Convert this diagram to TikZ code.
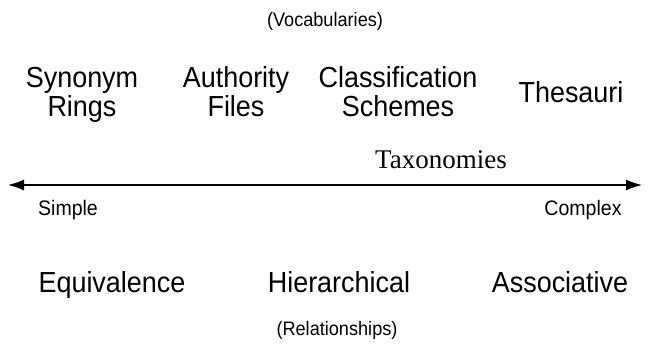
\documentclass[tikz,border=0pt]{standalone}
\usepackage{fontspec}
\setmainfont{Liberation Sans}[FakeStretch=0.93]
\newfontfamily\timesface{Liberation Serif}
\usetikzlibrary{arrows.meta}

\begin{document}
\begin{tikzpicture}[x=1pt,y=-1pt,
    big/.style={font=\fontsize{29}{29}\selectfont,align=center,inner sep=0pt,anchor=base},
    small/.style={font=\fontsize{21}{24}\selectfont,inner sep=0pt,anchor=base},
    tiny/.style={font=\fontsize{19.5}{22}\selectfont,inner sep=0pt,anchor=base}]
    \useasboundingbox (0,0) rectangle (649,349);
    % vocabularies
    \node [tiny] (vocab) at (325,26) {(Vocabularies)};
    \node [big] (synonym) at (82,116) {Synonym\\Rings};
    \node [big] (authority) at (236,116) {Authority\\Files};
    \node [big] (classif) at (398,116) {Classification\\Schemes};
    \node [big] (thesauri) at (571,102) {Thesauri};
    \node [big,font=\timesface\fontsize{27}{29}\selectfont] (taxo) at (441,168) {Taxonomies};
    % scale
    \coordinate (lo) at (8,185);
    \coordinate (hi) at (642,185);
    \draw [line width=1.3pt,{Latex[length=16pt,width=11pt]}-{Latex[length=16pt,width=11pt]}] (lo) -- (hi);
    \node [small] (simple) at (68,215) {Simple};
    \node [small] (complex) at (583,215) {Complex};
    % relationships
    \node [big] (equiv) at (112,292) {Equivalence};
    \node [big] (hier) at (339,292) {Hierarchical};
    \node [big] (assoc) at (560,292) {Associative};
    \node [tiny] (rel) at (337,335) {(Relationships)};
  \end{tikzpicture}
\end{document}
